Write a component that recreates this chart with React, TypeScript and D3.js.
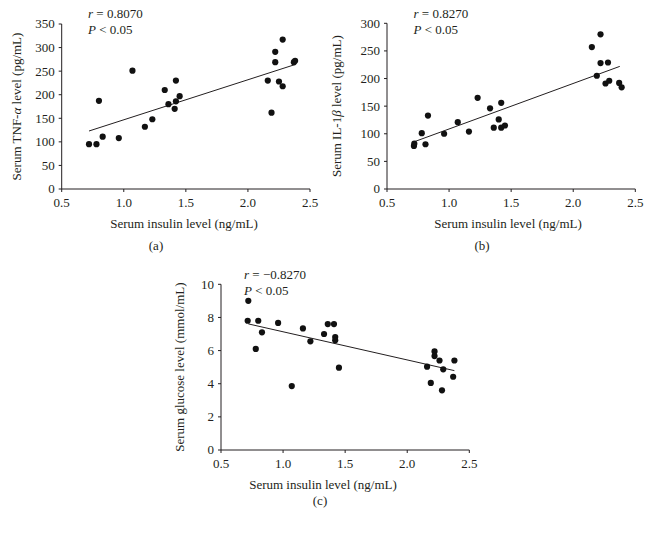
import React from "react";
import * as d3 from "d3";

// Panel (a): TNF-alpha vs insulin
const aInsulin = [0.72, 0.78, 0.80, 0.83, 0.96, 1.07, 1.17, 1.23, 1.33, 1.36, 1.41, 1.42, 1.42, 1.45, 2.16, 2.19, 2.22, 2.22, 2.25, 2.28, 2.28, 2.37, 2.38];
const aTnf = [95, 95, 187, 111, 108, 251, 132, 148, 210, 180, 170, 230, 186, 197, 230, 162, 269, 291, 228, 317, 218, 269, 272];
const aFitX = [0.72, 2.38];
const aFitY = [123, 264];
const aTicksY = [0, 50, 100, 150, 200, 250, 300, 350];

// Panel (b): IL-1beta vs insulin
const bInsulin = [0.717, 0.72, 0.78, 0.81, 0.83, 0.96, 1.07, 1.16, 1.23, 1.33, 1.36, 1.40, 1.42, 1.42, 1.45, 2.15, 2.19, 2.22, 2.22, 2.26, 2.28, 2.29, 2.37, 2.39];
const bIl = [78, 82, 101, 81, 133, 100, 121, 104, 165, 146, 111, 126, 156, 111, 115, 257, 205, 280, 228, 191, 229, 196, 192, 184];
const bFitX = [0.725, 2.375];
const bFitY = [86, 222];
const bTicksY = [0, 50, 100, 150, 200, 250, 300];

// Panel (c): glucose vs insulin
const cInsulin = [0.72, 0.715, 0.78, 0.80, 0.83, 0.96, 1.07, 1.16, 1.22, 1.33, 1.36, 1.41, 1.42, 1.42, 1.45, 2.16, 2.19, 2.22, 2.22, 2.26, 2.28, 2.29, 2.37, 2.38];
const cGlucose = [9.0, 7.8, 6.1, 7.8, 7.1, 7.67, 3.86, 7.34, 6.56, 7.0, 7.6, 7.6, 6.82, 6.62, 4.97, 5.03, 4.05, 5.95, 5.67, 5.4, 3.6, 4.87, 4.42, 5.4];
const cFitX = [0.72, 2.38];
const cFitY = [7.61, 4.79];
const cTicksY = [0, 2, 4, 6, 8, 10];

const xTicks = [0.5, 1.0, 1.5, 2.0, 2.5];

const FONT = "'Liberation Serif', 'Times New Roman', serif";
const INK = "#231f20";

type PanelProps = {
  xs: number[];
  ys: number[];
  fitX: number[];
  fitY: number[];
  yTicks: number[];
  yFmt: (v: number) => string;
  left: number;
  right: number;
  top: number;
  bottom: number;
  yTitle: React.ReactNode;
  yTitleX: number;
  xTitleX: number;
  xTitleY: number;
  r: string;
  annX: number;
  annY: number;
  label: string;
  labelX: number;
  labelY: number;
};

function Panel(p: PanelProps) {
  const x = d3.scaleLinear().domain([0.5, 2.5]).range([p.left, p.right]);
  const yMax = p.yTicks[p.yTicks.length - 1];
  const y = d3.scaleLinear().domain([0, yMax]).range([p.bottom, p.top]);
  const line = d3
    .line<number>()
    .x((_, i) => x(p.fitX[i]))
    .y((d) => y(d));
  const fmtX = d3.format(".1f");
  return (
    <g>
      {/* axes */}
      <line x1={x(0.5)} x2={x(2.5)} y1={p.bottom} y2={p.bottom} stroke={INK} strokeWidth={1} />
      <line x1={p.left} x2={p.left} y1={p.bottom} y2={y(yMax)} stroke={INK} strokeWidth={1} />
      {p.yTicks.map((t) => (
        <g key={"y" + t}>
          <line x1={p.left - 3} x2={p.left} y1={y(t)} y2={y(t)} stroke={INK} />
          <text
            x={p.left - 7}
            y={y(t)}
            dy="0.34em"
            textAnchor="end"
            fontSize={13}
            fontFamily={FONT}
            fill={INK}
          >
            {p.yFmt(t)}
          </text>
        </g>
      ))}
      {xTicks.map((t) => (
        <g key={"x" + t}>
          <line x1={x(t)} x2={x(t)} y1={p.bottom} y2={p.bottom + 3} stroke={INK} />
          <text
            x={x(t)}
            y={p.bottom + 18}
            textAnchor="middle"
            fontSize={13}
            fontFamily={FONT}
            fill={INK}
          >
            {fmtX(t)}
          </text>
        </g>
      ))}
      {/* fit line */}
      <path d={line(p.fitY) || ""} fill="none" stroke={INK} strokeWidth={1} />
      {/* points */}
      {p.xs.map((v, i) => (
        <circle key={i} cx={x(v)} cy={y(p.ys[i])} r={3.1} fill="#111" />
      ))}
      {/* titles */}
      <text
        x={p.xTitleX}
        y={p.xTitleY}
        textAnchor="middle"
        fontSize={13}
        fontFamily={FONT}
        fill={INK}
      >
        Serum insulin level (ng/mL)
      </text>
      <text
        transform={`translate(${p.yTitleX},${(p.top + p.bottom) / 2}) rotate(-90)`}
        textAnchor="middle"
        fontSize={13}
        fontFamily={FONT}
        fill={INK}
      >
        {p.yTitle}
      </text>
      {/* annotation */}
      <text x={p.annX} y={p.annY} fontSize={13} fontFamily={FONT} fill={INK}>
        <tspan fontStyle="italic">r</tspan> = {p.r}
      </text>
      <text x={p.annX} y={p.annY + 16} fontSize={13} fontFamily={FONT} fill={INK}>
        <tspan fontStyle="italic">P</tspan> {"<"} 0.05
      </text>
      <text
        x={p.labelX}
        y={p.labelY}
        textAnchor="middle"
        fontSize={13}
        fontFamily={FONT}
        fill={INK}
      >
        {p.label}
      </text>
    </g>
  );
}

export default function App() {
  const intFmt = d3.format("d");
  return (
    <svg
      width={650}
      height={536}
      style={{ position: "absolute", left: 0, top: 0, background: "#fff" }}
    >
      <rect width={650} height={536} fill="#fff" />
      <Panel
        xs={aInsulin}
        ys={aTnf}
        fitX={aFitX}
        fitY={aFitY}
        yTicks={aTicksY}
        yFmt={intFmt}
        left={61.7}
        right={310}
        top={24}
        bottom={189}
        yTitle={
          <>
            Serum TNF-<tspan fontStyle="italic">α</tspan> level (pg/mL)
          </>
        }
        yTitleX={21}
        xTitleX={184}
        xTitleY={228}
        r="0.8070"
        annX={88}
        annY={18}
        label="(a)"
        labelX={156}
        labelY={250}
      />
      <Panel
        xs={bInsulin}
        ys={bIl}
        fitX={bFitX}
        fitY={bFitY}
        yTicks={bTicksY}
        yFmt={intFmt}
        left={387}
        right={635.3}
        top={23.3}
        bottom={189}
        yTitle={
          <>
            Serum IL-1<tspan fontStyle="italic">β</tspan> level (pg/mL)
          </>
        }
        yTitleX={341}
        xTitleX={508}
        xTitleY={228}
        r="0.8270"
        annX={413.5}
        annY={18}
        label="(b)"
        labelX={482}
        labelY={250}
      />
      <Panel
        xs={cInsulin}
        ys={cGlucose}
        fitX={cFitX}
        fitY={cFitY}
        yTicks={cTicksY}
        yFmt={intFmt}
        left={221}
        right={469.3}
        top={284.3}
        bottom={450}
        yTitle={<>Serum glucose level (mmol/mL)</>}
        yTitleX={183.5}
        xTitleX={323}
        xTitleY={489}
        r="−0.8270"
        annX={244}
        annY={278.5}
        label="(c)"
        labelX={320}
        labelY={505}
      />
    </svg>
  );
}
